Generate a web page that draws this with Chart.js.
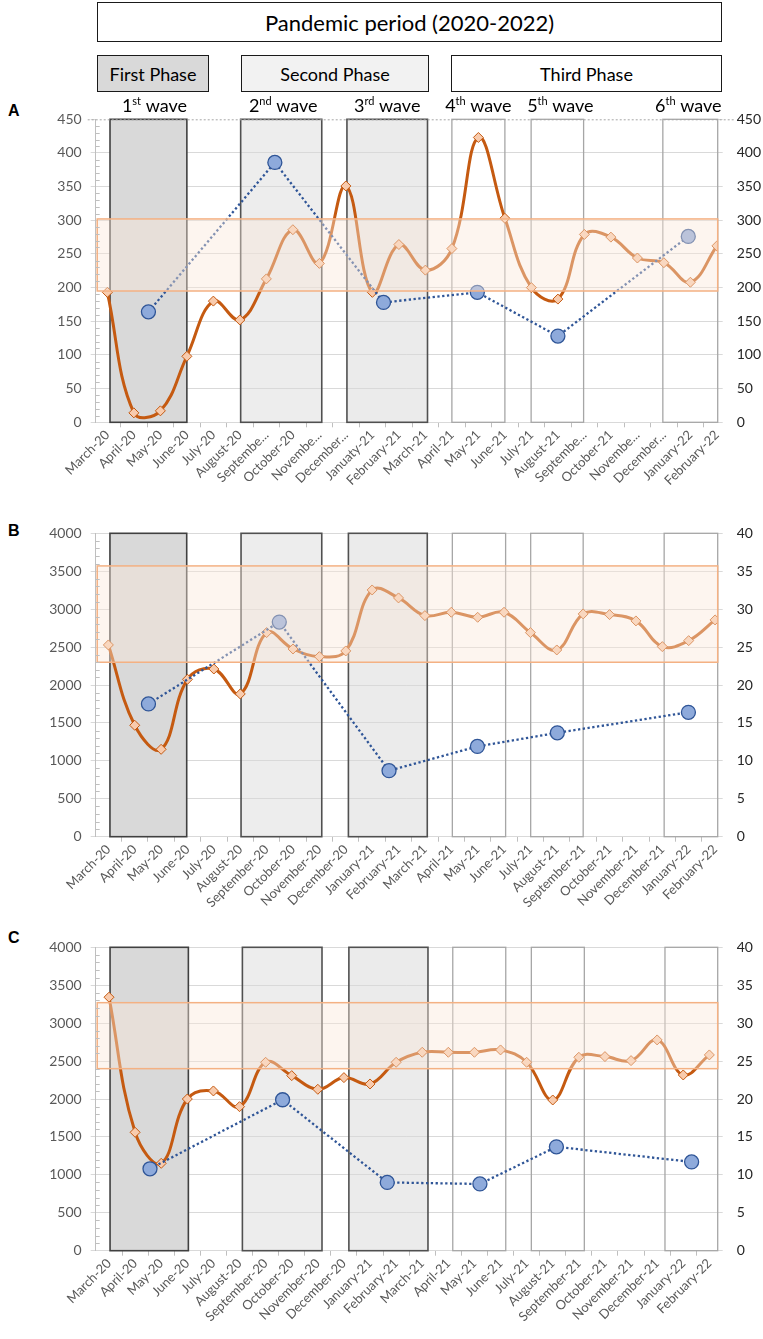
<!DOCTYPE html>
<html>
<head>
<meta charset="utf-8">
<script src="https://cdn.jsdelivr.net/npm/chart.js@4.4.0/dist/chart.umd.min.js"></script>
<style>
  body { margin: 0; width: 763px; height: 1339px; background: #fff; position: relative; overflow: hidden; font-family: Lato, "Open Sans", sans-serif; }
  .box { position: absolute; box-sizing: border-box; border: 1.5px solid #1a1a1a; display: flex; align-items: center; justify-content: center; color: #000; font-size: 18px; }
  .panel { position: absolute; left: 0; width: 763px; }
  .letter { position: absolute; left: 8px; font: bold 16px "Liberation Sans", Arial, sans-serif; line-height: 1; }
</style>
</head>
<body>
<div class="box" style="left:97px;top:2px;width:625px;height:40px;font-size:22px">Pandemic period (2020-2022)</div>
<div class="box" style="left:97px;top:55px;width:112px;height:37px;background:#d9d9d9">First Phase</div>
<div class="box" style="left:241px;top:55px;width:188px;height:37px;background:#f2f2f2">Second Phase</div>
<div class="box" style="left:451px;top:55px;width:271px;height:37px;background:#fff">Third Phase</div>

<div class="letter" style="top:103px">A</div>
<div class="letter" style="top:523px">B</div>
<div class="letter" style="top:930px">C</div>

<div class="panel" style="top:95px;height:395px"><canvas id="chartA"></canvas></div>
<div class="panel" style="top:500px;height:410px"><canvas id="chartB"></canvas></div>
<div class="panel" style="top:915px;height:424px"><canvas id="chartC"></canvas></div>

<script>
// x tick labels (panel A shows truncated names as in the original)
const labelsA = ['March-20', 'April-20', 'May-20', 'June-20', 'July-20', 'August-20', 'Septembe...', 'October-20', 'Novembe...', 'December...', 'Januaty-21', 'February-21',
  'March-21', 'April-21', 'May-21', 'June-21', 'July-21', 'August-21', 'Septembe...', 'October-21', 'Novembe...', 'December...', 'January-22', 'February-22'];
const labelsB = ['March-20', 'April-20', 'May-20', 'June-20', 'July-20', 'August-20', 'September-20', 'October-20', 'November-20', 'December-20', 'January-21', 'February-21',
  'March-21', 'April-21', 'May-21', 'June-21', 'July-21', 'August-21', 'September-21', 'October-21', 'November-21', 'December-21', 'January-22', 'February-22'];
const labelsC = labelsB;

// monthly series (orange, left axis)
const orangeA = [193, 14, 17, 98, 180, 152, 213, 286, 236, 351, 193, 264, 226, 258, 423, 303, 200, 183, 279, 275, 244, 237, 208, 262];
const orangeB = [2528, 1469, 1152, 2075, 2211, 1882, 2691, 2475, 2374, 2449, 3253, 3148, 2915, 2959, 2893, 2959, 2691, 2462, 2937, 2928, 2845, 2506, 2585, 2858];
const orangeC = [3342, 1561, 1152, 2000, 2106, 1899, 2484, 2308, 2128, 2282, 2198, 2484, 2616, 2616, 2616, 2647, 2484, 1987, 2550, 2559, 2506, 2779, 2317, 2581];

// wave series (blue, right axis), x in month units
const blueXA = [1.55, 6.32, 10.42, 13.96, 17.0, 21.92];
const blueA = [164, 386, 178, 193, 128, 276];
const blueXB = [1.52, 6.48, 10.64, 13.99, 17.02, 21.99];
const blueB = [17.5, 28.3, 8.7, 11.9, 13.7, 16.4];
const blueXC = [1.57, 6.65, 10.66, 14.21, 17.14, 22.32];
const blueC = [10.8, 19.9, 9.0, 8.8, 13.7, 11.7];

// reference band (left axis units)
const bandA = [195, 302];
const bandB = [2300, 3570];
const bandC = [2400, 3270];

// wave periods, in month units
const wavesA = [[0.1, 3.0], [5.03, 8.09], [9.04, 12.08], [13.0, 15.0], [15.99, 17.97], [20.96, 23.03]];
const wavesB = [[0.06, 2.97], [5.03, 8.09], [9.1, 12.09], [13.04, 15.06], [16.01, 18.0], [21.07, 23.1]];
const wavesC = [[0.04, 3.04], [5.11, 8.16], [9.19, 12.22], [13.17, 15.2], [16.18, 18.21], [21.3, 23.32]];
const waveNum = ['1', '2', '3', '4', '5', '6'];
const waveSup = ['st', 'nd', 'rd', 'th', 'th', 'th'];

// styles for the wave boxes / labels
const waveFill = ['#d9d9d9', '#ededed', '#ebebeb', null, null, null];
const waveLine = ['#404040', '#505050', '#505050', '#a6a6a6', '#a6a6a6', '#a6a6a6'];
const waveLabelShift = [6, 2, 0, 0, 3, -2];

Chart.defaults.font.family = 'Lato, "Open Sans", sans-serif';
Chart.defaults.animation = false;

function wavePlugin(cfg) {
  return {
    id: 'waves',
    beforeDraw(chart) {
      const { ctx, chartArea: a, scales: { x } } = chart;
      ctx.save();
      cfg.waves.forEach((w, i) => {
        if (!waveFill[i]) return;
        const x0 = x.getPixelForValue(w[0]), x1 = x.getPixelForValue(w[1]);
        ctx.fillStyle = waveFill[i];
        ctx.fillRect(x0, a.top, x1 - x0, a.bottom - a.top);
      });
      ctx.restore();
    },
    beforeDatasetsDraw(chart) {
      const { ctx, chartArea: a, scales: { x } } = chart;
      ctx.save();
      cfg.waves.forEach((w, i) => {
        const x0 = x.getPixelForValue(w[0]), x1 = x.getPixelForValue(w[1]);
        ctx.strokeStyle = waveLine[i];
        ctx.lineWidth = i < 3 ? 1.6 : 1.3;
        ctx.strokeRect(x0, a.top, x1 - x0, a.bottom - a.top);
      });
      ctx.restore();
    },
    afterDatasetsDraw(chart) {
      const { ctx, chartArea: a, scales: { y } } = chart;
      const yTop = y.getPixelForValue(cfg.band[1]), yBot = y.getPixelForValue(cfg.band[0]);
      ctx.save();
      ctx.fillStyle = 'rgba(251, 230, 216, 0.42)';
      ctx.fillRect(a.left + 1.5, yTop, a.right - a.left - 1.5, yBot - yTop);
      ctx.strokeStyle = '#f4b183';
      ctx.lineWidth = 1.5;
      ctx.strokeRect(a.left + 1.5, yTop, a.right - a.left - 1.5, yBot - yTop);
      ctx.restore();
    },
    afterDraw(chart) {
      const { ctx, chartArea: a, scales: { x, y } } = chart;
      ctx.save();
      // minor ticks on left axis
      ctx.strokeStyle = '#bfbfbf';
      ctx.lineWidth = 1;
      for (let v = cfg.minor; v < cfg.yMax; v += cfg.minor) {
        if (v % cfg.yStep === 0) continue;
        const py = Math.round(y.getPixelForValue(v)) + 0.5;
        ctx.beginPath();
        ctx.moveTo(a.left, py);
        ctx.lineTo(a.left + 4, py);
        ctx.stroke();
      }
      if (cfg.dashedTop) {
        ctx.strokeStyle = '#a6a6a6';
        ctx.setLineDash([2, 2]);
        ctx.beginPath();
        ctx.moveTo(a.left - 8, a.top + 0.5);
        ctx.lineTo(a.right + 16, a.top + 0.5);
        ctx.stroke();
        ctx.setLineDash([]);
      }
      if (cfg.waveLabels) {
        ctx.fillStyle = '#000';
        ctx.textAlign = 'left';
        ctx.textBaseline = 'alphabetic';
        const big = '18px Lato', small = '11px Lato';
        cfg.waves.forEach((w, i) => {
          const cx = (x.getPixelForValue(w[0]) + x.getPixelForValue(w[1])) / 2 + waveLabelShift[i];
          ctx.font = big;
          const w1 = ctx.measureText(waveNum[i]).width, w3 = ctx.measureText(' wave').width;
          ctx.font = small;
          const w2 = ctx.measureText(waveSup[i]).width;
          let sx = cx - (w1 + w2 + w3) / 2;
          const by = a.top - 7;
          ctx.font = big; ctx.fillText(waveNum[i], sx, by); sx += w1;
          ctx.font = small; ctx.fillText(waveSup[i], sx, by - 7); sx += w2;
          ctx.font = big; ctx.fillText(' wave', sx, by);
        });
      }
      ctx.restore();
    }
  };
}

function makePanel(id, cfg) {
  new Chart(document.getElementById(id), {
    type: 'line',
    data: {
      datasets: [
        {
          data: cfg.blueX.map((v, i) => ({ x: v, y: cfg.blue[i] })),
          yAxisID: 'y1',
          borderColor: '#2f5597',
          borderWidth: 2.3,
          borderDash: [2.3, 2.5],
          tension: 0,
          pointRadius: 7,
          pointBackgroundColor: '#8eaadb',
          pointBorderColor: '#2f5597',
          pointBorderWidth: 1.3
        },
        {
          data: cfg.orange.map((v, i) => ({ x: i, y: v })),
          yAxisID: 'y',
          borderColor: '#c55a11',
          borderWidth: 3,
          tension: 0.4,
          pointStyle: 'rectRot',
          pointRadius: 5,
          pointBackgroundColor: '#f8cbad',
          pointBorderColor: '#c55a11',
          pointBorderWidth: 1
        }
      ]
    },
    options: {
      responsive: true,
      maintainAspectRatio: false,
      layout: { padding: { top: cfg.padTop, left: 0, right: 0, bottom: 0 } },
      plugins: { legend: { display: false }, tooltip: { enabled: false } },
      events: [],
      scales: {
        x: {
          type: 'linear',
          min: cfg.xMin,
          max: cfg.xMax,
          afterBuildTicks: (s) => {
            const t = [];
            for (let v = 0; v <= cfg.xMax + 1e-6; v += 0.5) t.push({ value: v });
            s.ticks = t;
          },
          afterFit: (s) => { s.height = cfg.xHeight; },
          grid: {
            drawOnChartArea: false,
            tickLength: 5,
            tickColor: (c) => (c.tick && Number.isInteger(c.tick.value)) ? 'rgba(0,0,0,0)' : '#bfbfbf'
          },
          border: { color: '#d9d9d9' },
          ticks: {
            autoSkip: false,
            minRotation: 45,
            maxRotation: 45,
            padding: 0,
            color: '#595959',
            font: { size: 13 },
            callback: (v) => Number.isInteger(v) ? cfg.labels[v] : ''
          }
        },
        y: {
          position: 'left',
          min: 0,
          max: cfg.yMax,
          afterFit: (s) => { s.width = 95.7; },
          ticks: { stepSize: cfg.yStep, color: '#595959', font: { size: 14 }, padding: 9, callback: (v) => String(v) },
          grid: {
            color: (c) => (cfg.dashedTop && c.tick && c.tick.value === cfg.yMax) ? 'rgba(0,0,0,0)' : '#d9d9d9',
            tickLength: 5,
            tickColor: '#d9d9d9'
          },
          border: { color: '#bfbfbf' }
        },
        y1: {
          position: 'right',
          min: 0,
          max: cfg.y1Max,
          afterFit: (s) => { s.width = 763 - 717.7; },
          ticks: { stepSize: cfg.y1Step, color: '#262626', font: { size: 14 }, padding: 14, callback: (v) => String(v) },
          grid: { drawOnChartArea: false, tickLength: 5, tickColor: '#d9d9d9' },
          border: { display: false }
        }
      }
    },
    plugins: [wavePlugin(cfg)]
  });
}

makePanel('chartA', {
  labels: labelsA, orange: orangeA, blueX: blueXA, blue: blueA, band: bandA, waves: wavesA,
  xMin: -0.44, xMax: 23.03, yMax: 450, yStep: 50, minor: 10, y1Max: 450, y1Step: 50,
  padTop: 24.3, xHeight: 395 - (422.3 - 95), dashedTop: true, waveLabels: true
});
makePanel('chartB', {
  labels: labelsB, orange: orangeB, blueX: blueXB, blue: blueB, band: bandB, waves: wavesB,
  xMin: -0.48, xMax: 23.1, yMax: 4000, yStep: 500, minor: 100, y1Max: 40, y1Step: 5,
  padTop: 33.3, xHeight: 410 - (836.7 - 500), dashedTop: false, waveLabels: false
});
makePanel('chartC', {
  labels: labelsC, orange: orangeC, blueX: blueXC, blue: blueC, band: bandC, waves: wavesC,
  xMin: -0.51, xMax: 23.32, yMax: 4000, yStep: 500, minor: 100, y1Max: 40, y1Step: 5,
  padTop: 32.3, xHeight: 424 - (1250.7 - 915), dashedTop: false, waveLabels: false
});
</script>
</body>
</html>
